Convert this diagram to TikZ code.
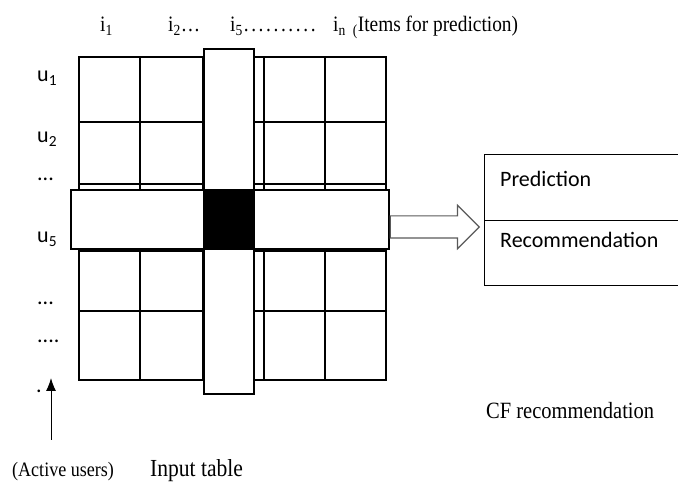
\documentclass[tikz,border=0pt]{standalone}
\usepackage{fontspec}
\setmainfont{Liberation Serif}[FakeStretch=0.88]
\newfontfamily\calfont{Carlito}
\usetikzlibrary{positioning,shapes.arrows,arrows.meta}
\tikzset{
  serlab/.style={font=\fontsize{22}{22}\selectfont, anchor=base west, inner sep=0pt},
  sanlab/.style={font=\calfont\fontsize{22}{22}\selectfont, anchor=base west, inner sep=0pt},
  cellline/.style={line width=1.1pt},
  barbox/.style={draw, fill=white, line width=1.1pt, inner sep=0pt},
}
\newcommand{\dotrun}{.\kern2.6pt.\kern2.6pt.\kern2.6pt.\kern2.6pt.\kern2.6pt.\kern2.6pt.\kern2.6pt.\kern2.6pt.\kern2.6pt.}
\begin{document}
\begin{tikzpicture}[x=1pt,y=-1pt]
  \useasboundingbox (0,0) rectangle (678,486);
  \clip (0,0) rectangle (678,486);
  % input table
  \draw[cellline] (79,57) rectangle (386,380);
  \foreach \x in {140,203,264,325} \draw[cellline] (\x,57) -- (\x,380);
  \foreach \y in {122,184,251,311} \draw[cellline] (79,\y) -- (386,\y);
  \node[barbox, minimum width=50pt, minimum height=345pt] (colbar) at (229,221.5) {};
  \node[barbox, minimum width=318pt, minimum height=59pt] (rowbar) at (230,219.5) {};
  \node[barbox, fill=black, minimum width=50pt, minimum height=59pt] (target) at (229,219.5) {};
  % item labels
  \node[serlab] (i1) at (100,32) {i\textsubscript{1}};
  \node[serlab] (i2) at (168,32) {i\textsubscript{2}\ldots};
  \node[serlab] (i5) at (230,32) {i\textsubscript{5}\kern1pt\dotrun};
  \node[serlab] (in) at (333,32) {i\textsubscript{n}\hspace{7pt}\textsubscript{(}Items for prediction)};
  % user labels
  \node[sanlab] (u1) at (37,82) {u\textsubscript{1}};
  \node[sanlab] (u2) at (37,143) {u\textsubscript{2}};
  \node[sanlab] (ua) at (37,181) {...};
  \node[sanlab] (u5) at (37,243) {u\textsubscript{5}};
  \node[sanlab] (ub) at (37,305) {...};
  \node[sanlab] (uc) at (37,343) {....};
  \node[sanlab] (ud) at (36,393) {.};
  \coordinate (actbase) at (51,440);
  \coordinate (acttip) at (51,378);
  \draw[line width=1pt, -{Latex[length=13pt,width=10pt]}] (actbase) -- (acttip);
  \node[serlab, font=\fontsize{20.5}{21}\selectfont] (active) at (12,477) {(Active users)};
  \node[serlab, font=\fontsize{24.5}{25}\selectfont] (intable) at (150,477) {Input table};
  % output
  \node[draw, line width=1pt, minimum width=230pt, minimum height=131pt, anchor=north west] (cfbox) at (484,154) {};
  \draw[line width=1pt] (cfbox.west |- 0,221) -- (cfbox.east |- 0,221);
  \node[sanlab] (pred) at (500,187) {Prediction};
  \node[sanlab] (recom) at (500,248) {Recommendation};
  \node[single arrow, draw=black!65, line width=1.2pt, inner xsep=0pt, inner ysep=10.5pt, minimum height=89pt,
        single arrow head extend=10.5pt, anchor=west] (flow) at (rowbar.east |- 0,227) {};
  \node[serlab, font=\fontsize{23.3}{24}\selectfont] (cflab) at (486,419) {CF recommendation};
\end{tikzpicture}
\end{document}
